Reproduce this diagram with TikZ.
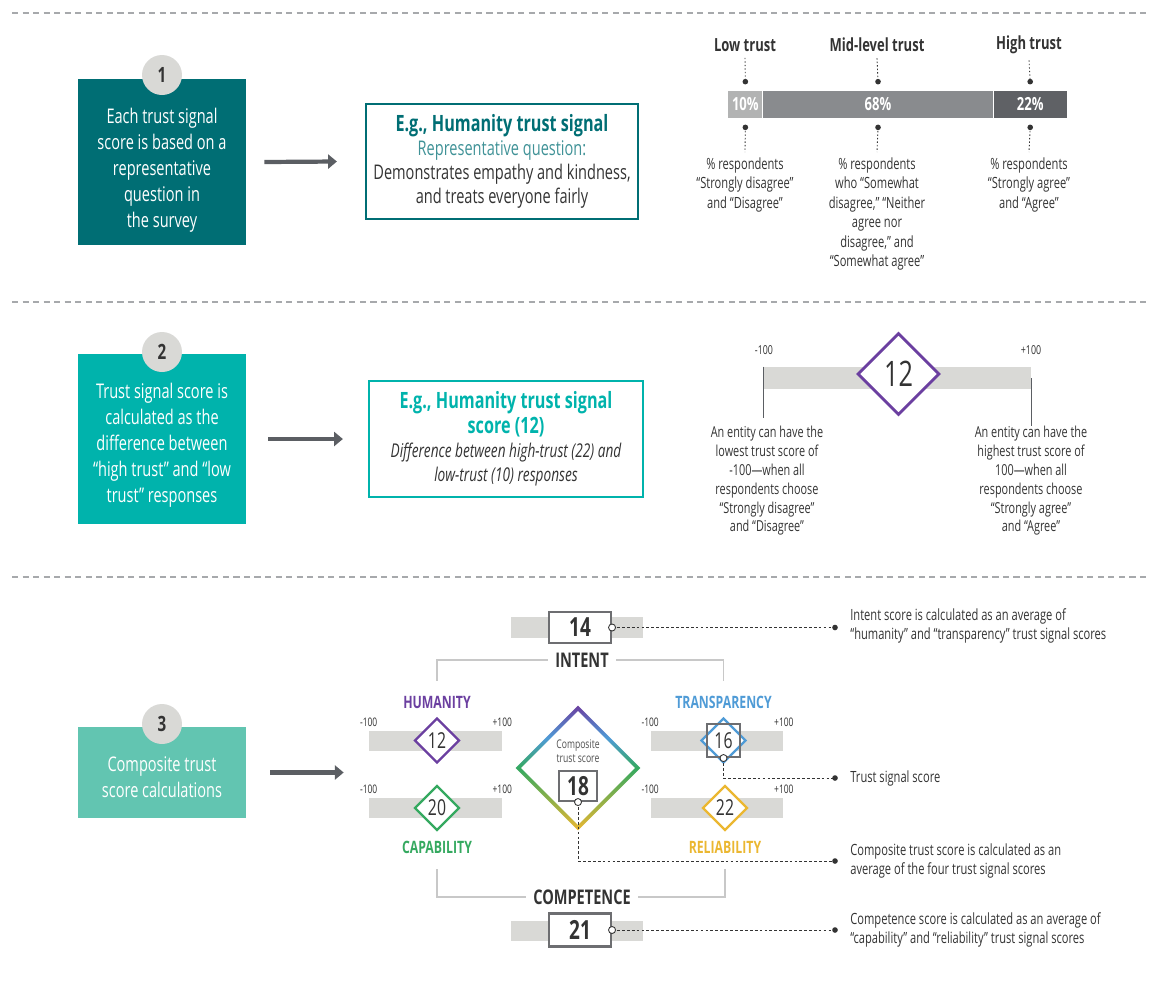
\documentclass[tikz,border=0pt]{standalone}
\usepackage{fontspec}
\setmainfont{Open Sans}[FakeStretch=0.72]
\usetikzlibrary{shapes.geometric,arrows.meta}
\definecolor{tealA}{HTML}{006E74}
\definecolor{tealB}{HTML}{00B3AC}
\definecolor{tealC}{HTML}{62C5B1}
\definecolor{stepgray}{HTML}{D9D9D6}
\definecolor{ink}{HTML}{333333}
\definecolor{arrowgray}{HTML}{5B5E63}
\definecolor{barlo}{HTML}{B2B3B3}
\definecolor{barmid}{HTML}{898B8E}
\definecolor{barhi}{HTML}{5F6165}
\definecolor{cpurple}{HTML}{6B3FA0}
\definecolor{cblue}{HTML}{4F9BD6}
\definecolor{cgreen}{HTML}{35A960}
\definecolor{cyellow}{HTML}{EBB731}
\definecolor{boxgray}{HTML}{6D6E71}
\definecolor{brgray}{HTML}{C8C8C8}
\definecolor{sepgray}{HTML}{A7A9AC}
\pgfdeclareverticalshading{compgrad}{100bp}{color(0bp)=(cyellow); color(25bp)=(cyellow); color(37bp)=(cyellow!50!cgreen); color(50bp)=(cgreen); color(62bp)=(cblue); color(75bp)=(cpurple); color(100bp)=(cpurple)}
\newcommand\fsz[2]{\fontsize{#1}{#2}\selectfont}
\tikzset{
  stepbox/.style={fill=#1, minimum width=3.36cm, inner sep=0pt},
  stepnum/.style={circle, fill=stepgray, minimum size=0.8cm, inner sep=0pt, font=\fsz{12}{14}\bfseries, text=ink},
  steptxt/.style={align=center, text=white, inner sep=0pt, font=\fsz{11.5}{14.8}},
  bigarrow/.style={arrowgray, line width=2.4pt, -{Triangle[length=5pt,width=8pt]}},
  exbox/.style={draw=#1, line width=1.3pt, minimum width=5.44cm, minimum height=2.3cm, align=center, inner sep=0pt, text=ink, font=\fsz{11.5}{13.8}},
  sepline/.style={sepgray, line width=0.6pt, dash pattern=on 3.5pt off 2.5pt},
  seg/.style={fill=#1, minimum height=0.54cm, inner sep=0pt, anchor=west, text=white, font=\fsz{10.3}{12}\bfseries},
  hdr/.style={font=\fsz{10.3}{12}\bfseries, text=ink},
  note/.style={align=center, inner sep=0pt, text=ink, font=\fsz{8.8}{11.1}},
  dotline/.style={ink, line width=0.5pt, dash pattern=on 0.8pt off 1.2pt},
  leader/.style={ink, line width=0.5pt, dash pattern=on 1.6pt off 1.2pt},
  scalebar/.style={fill=stepgray, inner sep=0pt, minimum height=0.4cm},
  sigdia/.style={diamond, draw=#1, fill=white, line width=1.3pt, minimum size=0.9cm, inner sep=0pt, text=ink, font=\fsz{12.5}{13}},
  siglab/.style={font=\fsz{9.7}{11}\bfseries, text=#1},
  rng/.style={font=\fsz{6.7}{7}, text=ink, inner sep=1pt},
  scorebox/.style={draw=boxgray, fill=white, line width=1.2pt, minimum width=1.24cm, minimum height=0.62cm, inner sep=0pt, text=ink, font=\fsz{15}{16}\bfseries},
  opendot/.style={circle, draw=ink, fill=white, line width=0.5pt, minimum size=4pt, inner sep=0pt},
  bracket/.style={brgray, line width=0.9pt},
  dimlab/.style={font=\fsz{11.5}{13}\bfseries, text=ink, inner sep=4pt}
}
\newcommand\extitle[2]{{\fsz{12.8}{13.8}\bfseries\color{#1}#2}}
\begin{document}
\begin{tikzpicture}[x=0.02cm,y=-0.02cm]
\useasboundingbox (0,0) rectangle (1150,985);
\foreach \y in {13,302,577} \draw[sepline] (12,\y) -- (1150,\y);

\node[stepbox=tealA, minimum height=3.32cm] (box1) at (162,162) {};
\node[stepnum] (n1) at (162,75) {1};
\node[steptxt, anchor=north] (txt1) at (162,108) {Each trust signal\\score is based on a\\representative\\question in\\the survey};
\node[exbox=tealA] (ex1) at (502,161.5) {\extitle{tealA}{E.g., Humanity trust signal}\\{\color{tealA!75}Representative question:}\\Demonstrates empathy and kindness,\\and treats everyone fairly};
\draw[bigarrow] ([xshift=0.36cm]box1.east) -- ([xshift=-0.56cm]ex1.west);

\node[seg=barlo, minimum width=0.68cm] (lo) at (728,104.5) {10\%};
\node[seg=barmid, minimum width=4.6cm] (mid) at (lo.east) {68\%};
\node[seg=barhi, minimum width=1.46cm] (hi) at (mid.east) {22\%};
\node[hdr] (hlo) at (745,45) {Low trust};
\node[hdr] (hmid) at (877,45) {Mid-level trust};
\node[hdr] (hhi) at (1029,45) {High trust};
\node[note, anchor=north] (nlo) at (745,157) {\% respondents\\“Strongly disagree”\\and “Disagree”};
\node[note, anchor=north] (nmid) at (877,157) {\% respondents\\who “Somewhat\\disagree,” “Neither\\agree nor\\disagree,” and\\“Somewhat agree”};
\node[note, anchor=north] (nhi) at (1029,157) {\% respondents\\“Strongly agree”\\and “Agree”};
\foreach \h/\s/\n in {hlo/lo/nlo,hmid/mid/nmid,hhi/hi/nhi}{
  \draw[dotline] (\h.south) -- ([yshift=0.18cm]\s.north);
  \draw[dotline] ([yshift=-0.18cm]\s.south) -- ([yshift=0.1cm]\n.north);
  \fill[ink] ([yshift=0.18cm]\s.north) circle (1.6pt);
  \fill[ink] ([yshift=-0.18cm]\s.south) circle (1.6pt);
}

\node[stepbox=tealB, minimum height=3.4cm] (box2) at (162,439) {};
\node[stepnum] (n2) at (162,352) {2};
\node[steptxt, anchor=north] (txt2) at (162,383) {Trust signal score is\\calculated as the\\difference between\\“high trust” and “low\\trust” responses};
\node[exbox=tealB, minimum width=5.48cm, minimum height=2.32cm] (ex2) at (506,439) {\extitle{tealB}{E.g., Humanity trust signal}\\\extitle{tealB}{score (12)}\\{\itshape\fsz{10.8}{13.8}Difference between high-trust (22) and}\\{\itshape\fsz{10.8}{13.8}low-trust (10) responses}};
\draw[bigarrow] ([xshift=0.44cm]box2.east) -- ([xshift=-0.5cm]ex2.west);

\node[scalebar, minimum width=5.34cm, minimum height=0.44cm] (scl) at (897.5,378) {};
\draw[arrowgray, line width=0.8pt] (scl.north west) -- ++(0,51);
\draw[arrowgray, line width=0.8pt] (scl.east) -- ++(0,48);
\node[sigdia=cpurple, minimum size=1.64cm, line width=1.6pt, font=\fsz{20}{22}] (dia2) at (898.5,374) {12};
\node[rng, font=\fsz{7}{8}] (lo2) at (764,350) {-100};
\node[rng, font=\fsz{7}{8}] (hi2) at (1031,350) {+100};
\node[note, anchor=north, font=\fsz{8.6}{10.7}] (nl2) at (767,426) {An entity can have the\\lowest trust score of\\-100—when all\\respondents choose\\“Strongly disagree”\\and “Disagree”};
\node[note, anchor=north, font=\fsz{8.6}{10.7}] (nh2) at (1031,426) {An entity can have the\\highest trust score of\\100—when all\\respondents choose\\“Strongly agree”\\and “Agree”};

\node[stepbox=tealC, minimum height=1.82cm] (box3) at (162,772.5) {};
\node[stepnum] (n3) at (162,724) {3};
\node[steptxt, anchor=north] (txt3) at (162,756) {Composite trust\\score calculations};

\foreach \nm/\lab/\col/\val/\bx/\by/\dx/\ly in {hum/HUMANITY/cpurple/12/435.5/740.5/437/702,tra/TRANSPARENCY/cblue/16/717/740.5/723.5/702,cap/CAPABILITY/cgreen/20/435.5/808/437/847,rel/RELIABILITY/cyellow/22/717/808/725/847}{
  \node[scalebar, minimum width=2.66cm] (\nm-bar) at (\bx,\by) {};
  \node[rng, anchor=south] at ([yshift=1pt]\nm-bar.north west) {-100};
  \node[rng, anchor=south] at ([yshift=1pt]\nm-bar.north east) {+100};
  \node[siglab=\col] (\nm-lab) at (\dx,\ly) {\lab};
  \node[sigdia=\col] (\nm-dia) at (\dx,\by) {\val};
}
\node[draw=boxgray, line width=1.2pt, minimum size=0.66cm, inner sep=0pt] (trabox) at (tra-dia) {};
\draw[bigarrow] ([xshift=0.48cm]box3.east) -- ([xshift=-0.5cm]box3.east -| hum-bar.west);

\node[diamond, shade, shading=compgrad, minimum size=2.5cm, inner sep=0pt] (compout) at (578,768) {};
\node[diamond, fill=white, minimum size=2.28cm, inner sep=0pt] (compin) at (compout) {};
\node[font=\fsz{6.8}{7.8}, text=ink!85, align=center, inner sep=0pt] (comptxt) at (578,751.5) {Composite\\trust score};
\node[scorebox, minimum width=0.76cm, minimum height=0.6cm] (compbox) at (578,786) {18};

\node[scalebar, minimum width=2.64cm, minimum height=0.42cm] (intbar) at (577,627.5) {};
\node[scorebox] (intbox) at (580,627.5) {14};
\node[dimlab] (intlab) at (582,660) {INTENT};
\draw[bracket] ([yshift=0.18cm]hum-lab.north) |- (intlab.west);
\draw[bracket] (intlab.east) -| ([yshift=0.18cm]tra-lab.north);

\node[dimlab] (cmplab) at (582,897) {COMPETENCE};
\draw[bracket] ([yshift=-0.2cm]cap-lab.south) |- (cmplab.west);
\draw[bracket] (cmplab.east) -| ([yshift=-0.2cm]rel-lab.south);
\node[scalebar, minimum width=2.64cm] (cmpbar) at (577,931) {};
\node[scorebox, minimum height=0.66cm] (cmpbox) at (580,930) {21};

\coordinate (intdot) at (835,627.5);
\coordinate (tsdot) at (835,778);
\coordinate (cpdot) at (835,861);
\coordinate (cmdot) at (835,930);
\draw[leader] (intbox.east) -- (intdot);
\draw[leader] (trabox.south) |- (tsdot);
\draw[leader] (compbox.south) |- (cpdot);
\draw[leader] (cmpbox.east) -- (cmdot);
\foreach \c in {intdot,tsdot,cpdot,cmdot} \fill[ink] (\c) circle (1.6pt);
\foreach \c in {intbox.east,trabox.south,compbox.south,cmpbox.east} \node[opendot] at (\c) {};

\node[note, align=left, anchor=west, font=\fsz{8.8}{10.4}] (intnote) at (850,626) {Intent score is calculated as an average of\\“humanity” and “transparency” trust signal scores};
\node[note, align=left, anchor=west, font=\fsz{8.8}{10.4}] (tsnote) at (850,778) {Trust signal score};
\node[note, align=left, anchor=west, font=\fsz{8.8}{10.4}] (cpnote) at (850,861) {Composite trust score is calculated as an\\average of the four trust signal scores};
\node[note, align=left, anchor=west, font=\fsz{8.8}{10.4}] (cmnote) at (850,930) {Competence score is calculated as an average of\\“capability” and “reliability” trust signal scores};
\end{tikzpicture}
\end{document}
